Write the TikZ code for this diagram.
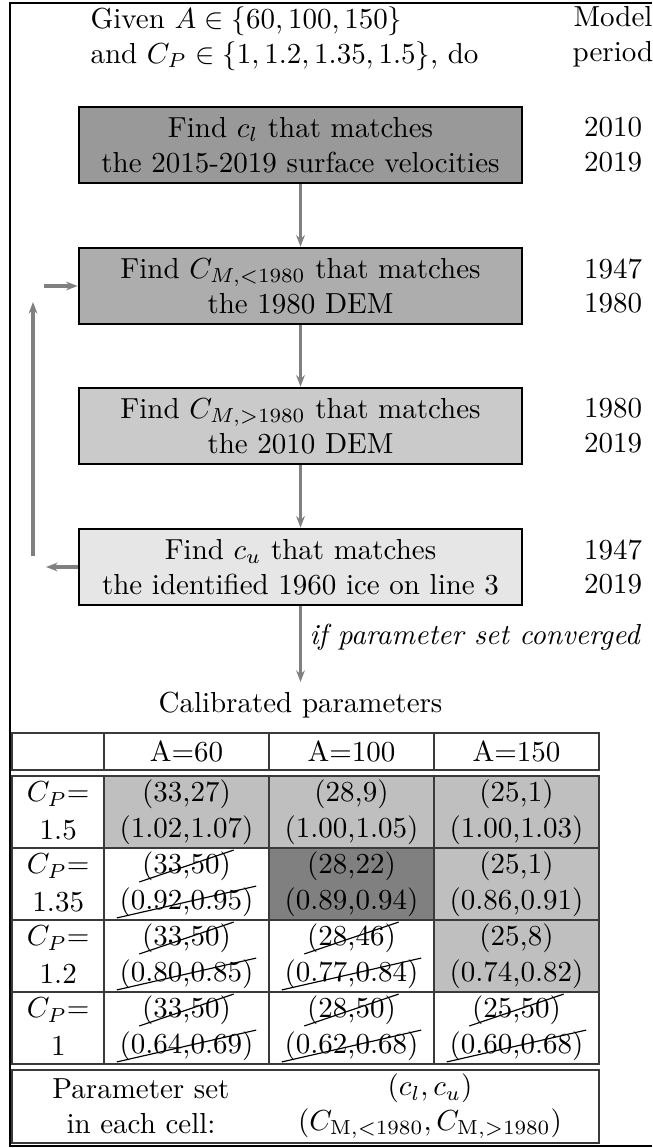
\documentclass[tikz,border=0pt]{standalone}
\usetikzlibrary{arrows.meta}
\definecolor{boxA}{HTML}{999999}
\definecolor{boxB}{HTML}{ADADAD}
\definecolor{boxC}{HTML}{CACACA}
\definecolor{boxD}{HTML}{E6E6E6}
\definecolor{cellL}{HTML}{BFBFBF}
\definecolor{cellD}{HTML}{808080}
\definecolor{arr}{HTML}{808080}
\definecolor{rule}{HTML}{3A3A3A}
\newcommand{\celltext}[3]{%
  \node[txt] (#1a) at ([yshift=18*0.345pt]#1.center) {#2};
  \node[txt] (#1b) at ([yshift=-18*0.345pt]#1.center) {#3};}
\newcommand{\cancelled}[3]{%
  \celltext{#1}{#2}{#3}
  \draw[strike] ([xshift=-1pt,yshift=-0.5pt]#1a.south west) -- ([xshift=1pt,yshift=0.5pt]#1a.north east);
  \draw[strike] ([xshift=-1pt,yshift=-0.5pt]#1b.south west) -- ([xshift=1pt,yshift=0.5pt]#1b.north east);}
\begin{document}
\begin{tikzpicture}[x=0.345pt,y=-0.345pt,
  stepbox/.style={draw=black, line width=0.9pt, minimum width=443*0.345pt, minimum height=76*0.345pt, align=center, inner sep=0pt},
  flow/.style={draw=arr, line width=1.1pt, -{Stealth[length=4pt,width=3pt]}},
  yr/.style={align=center, inner sep=0pt},
  cellbox/.style={draw=rule, line width=0.6pt, minimum width=#1*0.345pt, minimum height=72*0.345pt, inner sep=0pt},
  txt/.style={inner sep=0pt, outer sep=0pt},
  strike/.style={line width=0.4pt}
]
\useasboundingbox (0,0) rectangle (652,1148);
% outer frame
\draw[line width=0.6pt] (652,3) -- (10,3) -- (10,1146) -- (652,1146);

% header
\node[anchor=north west, align=left, inner sep=0pt] (given) at (90,6) {Given $A \in \{60, 100, 150\}$\\and $C_P \in \{1, 1.2, 1.35, 1.5\}$, do};
\node[anchor=north, align=center, inner sep=0pt] (model) at (613,6) {Model\\period};

% boxes
\node[stepbox, fill=boxA] (b1) at (300.5,145) {Find $c_l$ that matches\\the 2015-2019 surface velocities};
\node[stepbox, fill=boxB] (b2) at (300.5,286) {Find $C_{M,<1980}$ that matches\\the 1980 DEM};
\node[stepbox, fill=boxC] (b3) at (300.5,426) {Find $C_{M,>1980}$ that matches\\the 2010 DEM};
\node[stepbox, fill=boxD] (b4) at (300.5,567) {Find $c_u$ that matches\\the identified 1960 ice on line 3};

\node[yr] (y1) at (613,145) {2010\\2019};
\node[yr] (y2) at (613,286) {1947\\1980};
\node[yr] (y3) at (613,426) {1980\\2019};
\node[yr] (y4) at (613,567) {1947\\2019};

\draw[flow] (b1) -- (b2);
\draw[flow] (b2) -- (b3);
\draw[flow] (b3) -- (b4);

% loop back
\coordinate (l1) at (46,567);
\coordinate (l2) at (33,556);
\coordinate (l3) at (33,302);
\coordinate (l4) at (44,286);
\draw[flow] (b4.west) -- (l1);
\draw[flow] (l2) -- (l3);
\draw[flow] (l4) -- (b2.west);

% result
\node[txt] (cal) at (300.5,705) {Calibrated parameters};
\coordinate (calT) at (300.5,682);
\draw[flow] (b4.south) -- (calT);
\node[anchor=west, inner sep=0pt] (conv) at (309,637) {\itshape if parameter set converged};

% table header
\node[cellbox=92, minimum height=37*0.345pt] (h0) at (58.25,751.5) {};
\node[cellbox=165, minimum height=37*0.345pt] (h1) at (186.5,751.5) {A=60};
\node[cellbox=165, minimum height=37*0.345pt] (h2) at (351.5,751.5) {A=100};
\node[cellbox=165, minimum height=37*0.345pt] (h3) at (516.5,751.5) {A=150};

% body cells (backgrounds)
\foreach \r/\yy in {1/812,2/884,3/956,4/1028}{
  \node[cellbox=92] (c\r0) at (58.25,\yy) {};
}
\node[cellbox=165, fill=cellL] (c11) at (186.5,812) {};
\node[cellbox=165, fill=cellL] (c12) at (351.5,812) {};
\node[cellbox=165, fill=cellL] (c13) at (516.5,812) {};
\node[cellbox=165] (c21) at (186.5,884) {};
\node[cellbox=165, fill=cellD] (c22) at (351.5,884) {};
\node[cellbox=165, fill=cellL] (c23) at (516.5,884) {};
\node[cellbox=165] (c31) at (186.5,956) {};
\node[cellbox=165] (c32) at (351.5,956) {};
\node[cellbox=165, fill=cellL] (c33) at (516.5,956) {};
\node[cellbox=165] (c41) at (186.5,1028) {};
\node[cellbox=165] (c42) at (351.5,1028) {};
\node[cellbox=165] (c43) at (516.5,1028) {};

% first column labels
\foreach \r/\v in {1/1.5,2/1.35,3/1.2,4/1}{
  \node[txt] (p\r a) at ([yshift=18*0.345pt]c\r0.center) {$C_P$=};
  \node[txt] (p\r b) at ([yshift=-18*0.345pt]c\r0.center) {\v};
}

\celltext{c11}{(33,27)}{(1.02,1.07)}
\celltext{c12}{(28,9)}{(1.00,1.05)}
\celltext{c13}{(25,1)}{(1.00,1.03)}
\cancelled{c21}{(33,50)}{(0.92,0.95)}
\celltext{c22}{(28,22)}{(0.89,0.94)}
\celltext{c23}{(25,1)}{(0.86,0.91)}
\cancelled{c31}{(33,50)}{(0.80,0.85)}
\cancelled{c32}{(28,46)}{(0.77,0.84)}
\celltext{c33}{(25,8)}{(0.74,0.82)}
\cancelled{c41}{(33,50)}{(0.64,0.69)}
\cancelled{c42}{(28,50)}{(0.62,0.68)}
\cancelled{c43}{(25,50)}{(0.60,0.68)}

% legend
\node[draw=rule, line width=0.6pt, minimum width=587*0.345pt, minimum height=73*0.345pt, inner sep=0pt] (leg) at (305.75,1106.5) {};
\node[align=center, inner sep=0pt] (legA) at (141,1106.5) {Parameter set\\in each cell:};
\node[align=center, inner sep=0pt] (legB) at (430,1106.5) {$(c_l, c_u)$\\$(C_{\mathrm{M},<1980}, C_{\mathrm{M},>1980})$};
\end{tikzpicture}
\end{document}
